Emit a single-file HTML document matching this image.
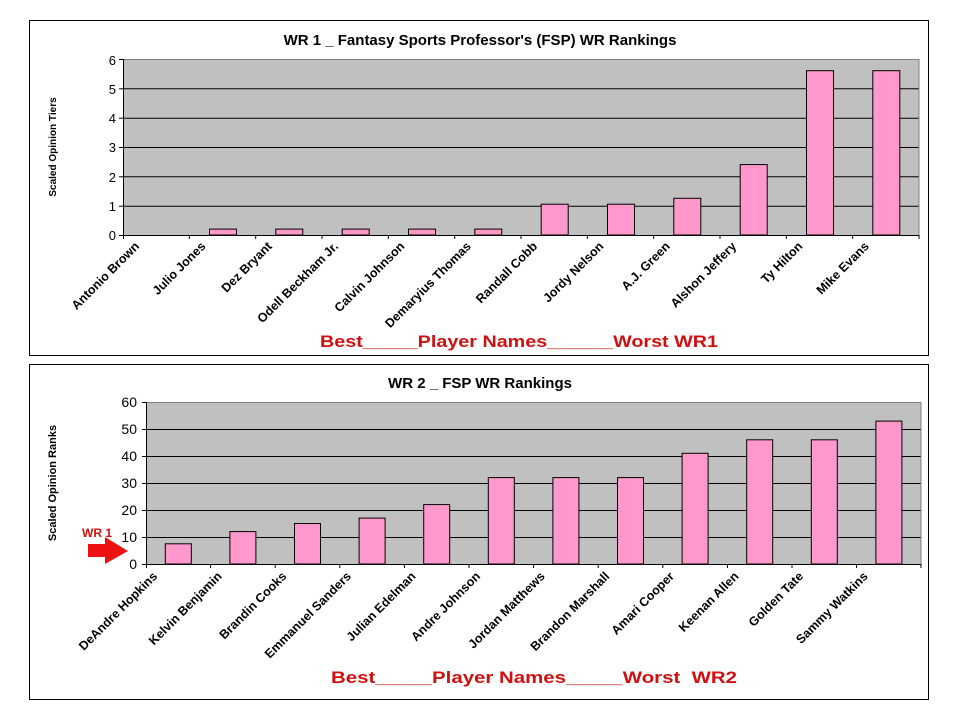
<!DOCTYPE html>
<html><head><meta charset="utf-8"><style>
html,body{margin:0;padding:0;background:#fff;}
svg{display:block;font-family:"Liberation Sans",Arial,sans-serif;}
</style></head><body>
<svg width="960" height="720" viewBox="0 0 960 720" xmlns="http://www.w3.org/2000/svg">
<rect x="0" y="0" width="960" height="720" fill="#fff"/>
<!-- Chart 1 -->
<rect x="29.5" y="20.5" width="899" height="335" fill="#fff" stroke="#000" stroke-width="1"/>
<text x="480" y="45" text-anchor="middle" font-size="15" font-weight="bold">WR 1 _ Fantasy Sports Professor's (FSP) WR Rankings</text>
<rect x="123" y="59" width="796" height="176" fill="#c0c0c0"/>
<g stroke="#000" stroke-width="1">
<line x1="123" y1="59.5" x2="919" y2="59.5" stroke="#808080"/>
<line x1="123" y1="88.8" x2="919" y2="88.8"/>
<line x1="123" y1="118.2" x2="919" y2="118.2"/>
<line x1="123" y1="147.5" x2="919" y2="147.5"/>
<line x1="123" y1="176.8" x2="919" y2="176.8"/>
<line x1="123" y1="206.2" x2="919" y2="206.2"/>
<line x1="919" y1="59" x2="919" y2="235" stroke="#808080"/>
</g>
<g font-size="13" text-anchor="end">
<text x="116" y="240">0</text><text x="116" y="211">1</text><text x="116" y="182">2</text><text x="116" y="152">3</text><text x="116" y="123">4</text><text x="116" y="94">5</text><text x="116" y="65">6</text>
</g>
<g fill="#ff99cc" stroke="#000" stroke-width="1">
<rect x="209.5" y="229.1" width="27" height="5.9"/>
<rect x="275.8" y="229.1" width="27" height="5.9"/>
<rect x="342.2" y="229.1" width="27" height="5.9"/>
<rect x="408.5" y="229.1" width="27" height="5.9"/>
<rect x="474.8" y="229.1" width="27" height="5.9"/>
<rect x="541.2" y="204.2" width="27" height="30.8"/>
<rect x="607.5" y="204.2" width="27" height="30.8"/>
<rect x="673.8" y="198.3" width="27" height="36.7"/>
<rect x="740.2" y="164.6" width="27" height="70.4"/>
<rect x="806.5" y="70.7" width="27" height="164.3"/>
<rect x="872.8" y="70.7" width="27" height="164.3"/>
</g>
<g stroke="#000" stroke-width="1">
<line x1="123.5" y1="59" x2="123.5" y2="239"/>
<line x1="119" y1="235.5" x2="919" y2="235.5"/>
<line x1="119" y1="59.5" x2="123" y2="59.5"/><line x1="119" y1="88.8" x2="123" y2="88.8"/><line x1="119" y1="118.2" x2="123" y2="118.2"/><line x1="119" y1="147.5" x2="123" y2="147.5"/><line x1="119" y1="176.8" x2="123" y2="176.8"/><line x1="119" y1="206.2" x2="123" y2="206.2"/>
<line x1="189.3" y1="235" x2="189.3" y2="239"/><line x1="255.7" y1="235" x2="255.7" y2="239"/><line x1="322" y1="235" x2="322" y2="239"/><line x1="388.3" y1="235" x2="388.3" y2="239"/><line x1="454.7" y1="235" x2="454.7" y2="239"/><line x1="521" y1="235" x2="521" y2="239"/><line x1="587.3" y1="235" x2="587.3" y2="239"/><line x1="653.7" y1="235" x2="653.7" y2="239"/><line x1="720" y1="235" x2="720" y2="239"/><line x1="786.3" y1="235" x2="786.3" y2="239"/><line x1="852.7" y1="235" x2="852.7" y2="239"/><line x1="919" y1="235" x2="919" y2="239"/>
</g>
<text transform="translate(56,147) rotate(-90)" text-anchor="middle" font-size="10" font-weight="bold">Scaled Opinion Tiers</text>
<g font-size="12.5" font-weight="bold" text-anchor="end">
<text transform="translate(140,247) rotate(-45)">Antonio Brown</text>
<text transform="translate(206.3,247) rotate(-45)">Julio Jones</text>
<text transform="translate(272.7,247) rotate(-45)">Dez Bryant</text>
<text transform="translate(339,247) rotate(-45)">Odell Beckham Jr.</text>
<text transform="translate(405.3,247) rotate(-45)">Calvin Johnson</text>
<text transform="translate(471.7,247) rotate(-45)">Demaryius Thomas</text>
<text transform="translate(538,247) rotate(-45)">Randall Cobb</text>
<text transform="translate(604.3,247) rotate(-45)">Jordy Nelson</text>
<text transform="translate(670.7,247) rotate(-45)">A.J. Green</text>
<text transform="translate(737,247) rotate(-45)">Alshon Jeffery</text>
<text transform="translate(803.3,247) rotate(-45)">Ty Hilton</text>
<text transform="translate(869.7,247) rotate(-45)">Mike Evans</text>
</g>
<text x="320" y="347" font-size="17" font-weight="bold" fill="#d01010" textLength="398" lengthAdjust="spacingAndGlyphs">Best_____Player Names______Worst WR1</text>

<!-- Chart 2 -->
<rect x="29.5" y="364.5" width="899" height="335" fill="#fff" stroke="#000" stroke-width="1"/>
<text x="480" y="388" text-anchor="middle" font-size="15" font-weight="bold">WR 2 _ FSP WR Rankings</text>
<rect x="146" y="402" width="775" height="162" fill="#c0c0c0"/>
<g stroke="#000" stroke-width="1">
<line x1="146" y1="402.5" x2="921" y2="402.5" stroke="#808080"/>
<line x1="146" y1="429.5" x2="921" y2="429.5"/>
<line x1="146" y1="456.5" x2="921" y2="456.5"/>
<line x1="146" y1="483.5" x2="921" y2="483.5"/>
<line x1="146" y1="510.5" x2="921" y2="510.5"/>
<line x1="146" y1="537.5" x2="921" y2="537.5"/>
<line x1="921" y1="402" x2="921" y2="564" stroke="#808080"/>
</g>
<g font-size="14" text-anchor="end">
<text x="137" y="569">0</text><text x="137" y="542">10</text><text x="137" y="515">20</text><text x="137" y="488">30</text><text x="137" y="461">40</text><text x="137" y="434">50</text><text x="137" y="407">60</text>
</g>
<g fill="#ff99cc" stroke="#000" stroke-width="1">
<rect x="165.3" y="543.8" width="26" height="20.2"/>
<rect x="229.9" y="531.6" width="26" height="32.4"/>
<rect x="294.5" y="523.5" width="26" height="40.5"/>
<rect x="359.1" y="518.1" width="26" height="45.9"/>
<rect x="423.7" y="504.6" width="26" height="59.4"/>
<rect x="488.3" y="477.6" width="26" height="86.4"/>
<rect x="552.9" y="477.6" width="26" height="86.4"/>
<rect x="617.5" y="477.6" width="26" height="86.4"/>
<rect x="682.1" y="453.3" width="26" height="110.7"/>
<rect x="746.7" y="439.8" width="26" height="124.2"/>
<rect x="811.3" y="439.8" width="26" height="124.2"/>
<rect x="875.9" y="421.1" width="26" height="142.9"/>
</g>
<g stroke="#000" stroke-width="1">
<line x1="146.5" y1="402" x2="146.5" y2="568"/>
<line x1="142" y1="564.5" x2="921" y2="564.5"/>
<line x1="142" y1="402.5" x2="146" y2="402.5"/><line x1="142" y1="429.5" x2="146" y2="429.5"/><line x1="142" y1="456.5" x2="146" y2="456.5"/><line x1="142" y1="483.5" x2="146" y2="483.5"/><line x1="142" y1="510.5" x2="146" y2="510.5"/><line x1="142" y1="537.5" x2="146" y2="537.5"/>
<line x1="210.6" y1="564" x2="210.6" y2="568"/><line x1="275.2" y1="564" x2="275.2" y2="568"/><line x1="339.8" y1="564" x2="339.8" y2="568"/><line x1="404.4" y1="564" x2="404.4" y2="568"/><line x1="469" y1="564" x2="469" y2="568"/><line x1="533.6" y1="564" x2="533.6" y2="568"/><line x1="598.2" y1="564" x2="598.2" y2="568"/><line x1="662.8" y1="564" x2="662.8" y2="568"/><line x1="727.4" y1="564" x2="727.4" y2="568"/><line x1="792" y1="564" x2="792" y2="568"/><line x1="856.6" y1="564" x2="856.6" y2="568"/><line x1="921" y1="564" x2="921" y2="568"/>
</g>
<text transform="translate(56,483) rotate(-90)" text-anchor="middle" font-size="11" font-weight="bold">Scaled Opinion Ranks</text>
<text x="82" y="537" font-size="12" font-weight="bold" fill="#d01010">WR 1</text>
<polygon points="88,544 105,544 105,537 128,551 105,564 105,557 88,557" fill="#ee1111"/>
<g font-size="12.5" font-weight="bold" text-anchor="end">
<text transform="translate(158,577) rotate(-45)">DeAndre Hopkins</text>
<text transform="translate(222.6,577) rotate(-45)">Kelvin Benjamin</text>
<text transform="translate(287.2,577) rotate(-45)">Brandin Cooks</text>
<text transform="translate(351.8,577) rotate(-45)">Emmanuel Sanders</text>
<text transform="translate(416.4,577) rotate(-45)">Julian Edelman</text>
<text transform="translate(481,577) rotate(-45)">Andre Johnson</text>
<text transform="translate(545.6,577) rotate(-45)">Jordan Matthews</text>
<text transform="translate(610.2,577) rotate(-45)">Brandon Marshall</text>
<text transform="translate(674.8,577) rotate(-45)">Amari Cooper</text>
<text transform="translate(739.4,577) rotate(-45)">Keenan Allen</text>
<text transform="translate(804,577) rotate(-45)">Golden Tate</text>
<text transform="translate(868.6,577) rotate(-45)">Sammy Watkins</text>
</g>
<text x="331" y="683" font-size="17" font-weight="bold" fill="#d01010" textLength="406" lengthAdjust="spacingAndGlyphs" xml:space="preserve">Best_____Player Names_____Worst  WR2</text>
</svg>
</body></html>
